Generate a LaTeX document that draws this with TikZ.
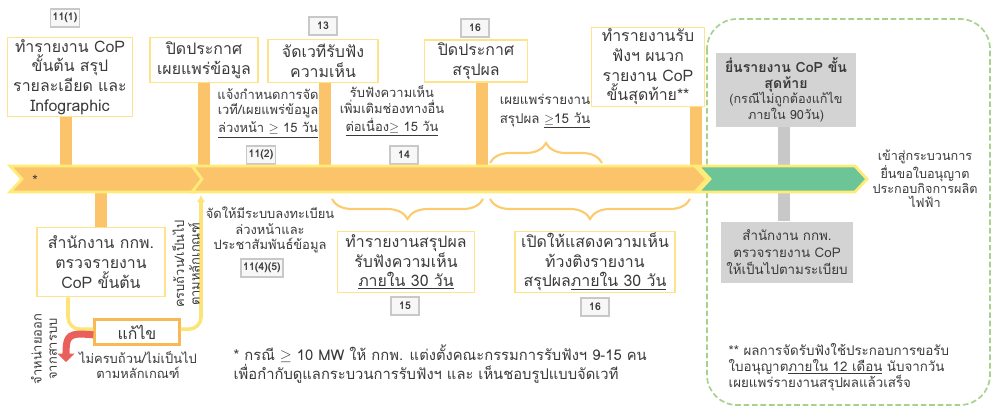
\documentclass[tikz,border=0pt]{standalone}
\usepackage{fontspec}
\setmainfont{Loma}[Script=Thai]
\usetikzlibrary{arrows.meta,decorations.pathreplacing}

\definecolor{boxyellow}{HTML}{FFE38A}
\definecolor{barorange}{HTML}{FBC36A}
\definecolor{bandyellow}{HTML}{FFEB7A}
\definecolor{bandgreen}{HTML}{6DC496}
\definecolor{boxgrey}{HTML}{D3D3D3}
\definecolor{lblgrey}{HTML}{C8C8C8}
\definecolor{dashgreen}{HTML}{A9D18E}
\definecolor{redarr}{HTML}{E9605A}
\definecolor{fixorange}{HTML}{F7B955}
\definecolor{txt}{HTML}{3A3A3A}

\begin{document}
\begin{tikzpicture}[x=0.025cm,y=-0.025cm,text=txt,
 box/.style={draw=boxyellow,line width=1.2pt,fill=white,align=center,inner sep=1pt,
  font=\fontsize{11.3}{14}\selectfont},
 gbox/.style={fill=boxgrey,align=center,inner sep=1pt,font=\fontsize{9}{11}\selectfont},
 num/.style={draw=lblgrey,line width=1.3pt,fill=gray!6,inner sep=1.5pt,
  font=\fontsize{7.5}{9}\selectfont\bfseries,minimum height=0.45cm,minimum width=0.72cm},
 note/.style={align=center,inner sep=1pt,font=\fontsize{9.2}{11}\selectfont},
 bar/.style={draw=barorange,line width=0.3cm},
 brc/.style={draw=barorange!80!bandyellow,line width=1.5pt,decorate,
  decoration={brace,amplitude=0.5cm}},
 okline/.style={draw=bandyellow!80!barorange,line width=2.5pt,rounded corners=0.3cm}]
\useasboundingbox (0,0) rectangle (994,410);

% licence stage frame
\draw[dashgreen,line width=1.2pt,dash pattern=on 4pt off 2pt,rounded corners=0.75cm]
 (707,19) rectangle (990,405);

\coordinate (bandmid) at (0,179);
\coordinate (okend) at (201,195);

% boxes above the band
\node[box,minimum width=3.125cm,minimum height=1.975cm] (rep) at (70,77)
 {ทำรายงาน CoP\\ขั้นต้น สรุป\\รายละเอียด และ\\Infographic};
\node[box,minimum width=2.7cm,minimum height=1.125cm] (pub) at (204,60)
 {ปิดประกาศ\\เผยแพร่ข้อมูล};
\node[box,minimum width=2.75cm,minimum height=1.075cm] (forum) at (323,61)
 {จัดเวทีรับฟัง\\ความเห็น};
\node[box,minimum width=2.575cm,minimum height=1.05cm] (sum) at (476,61)
 {ปิดประกาศ\\สรุปผล};
\node[box,minimum width=2.825cm,minimum height=1.975cm] (final) at (648,67)
 {ทำรายงานรับ\\ฟังฯ ผนวก\\รายงาน CoP\\ขั้นสุดท้าย**};
\node[gbox,minimum width=3.475cm,minimum height=1.825cm] (submit) at (786,90)
 {\textbf{\fontsize{10}{11}\selectfont ยื่นรายงาน CoP ขั้น}\\\textbf{\fontsize{10}{11}\selectfont สุดท้าย}\\(กรณีไม่ถูกต้องแก้ไข\\ภายใน 90วัน)};

% boxes below the band
\node[box,minimum width=3.2cm,minimum height=1.725cm] (review) at (101,262)
 {สำนักงาน กกพ.\\ตรวจรายงาน\\CoP ขั้นต้น};
\node[box,draw=fixorange,line width=1.6pt,minimum width=2.125cm,minimum height=0.625cm] (fix) at (137,332)
 {แก้ไข};
\node[box,minimum width=3.425cm,minimum height=1.525cm] (sumrep) at (406,262)
 {ทำรายงานสรุปผล\\รับฟังความเห็น\\\underline{ภายใน 30 วัน}};
\node[box,minimum width=4cm,minimum height=1.525cm] (object) at (595,262)
 {เปิดให้แสดงความเห็น\\ท้วงติงรายงาน\\สรุปผล\underline{ภายใน 30 วัน}};
\node[gbox,minimum width=3.275cm,minimum height=1.525cm,font=\fontsize{9.5}{12}\selectfont] (check) at (787,252)
 {สำนักงาน กกพ.\\ตรวจรายงาน CoP\\ให้เป็นไปตามระเบียบ};

% section numbers
\node[num] (n1) at (65,18) {11(1)};
\node[num] (n2) at (261,155) {11(2)};
\node[num] (n3) at (323,26) {13};
\node[num] (n4) at (404,155) {14};
\node[num] (n5) at (475,28) {16};
\node[num] (n6) at (262,268) {11(4)(5)};
\node[num] (n7) at (405,306) {15};
\node[num] (n8) at (595,307) {16};

% bars
\draw[bar] ([xshift=-0.1cm]rep.south) -- ([xshift=-0.1cm]rep.south |- bandmid);
\draw[bar] (pub.south) -- (pub.south |- bandmid);
\draw[bar] ([xshift=0.05cm]forum.south) -- ([xshift=0.05cm]forum.south |- bandmid);
\draw[bar] ([xshift=0.15cm]sum.south) -- ([xshift=0.15cm]sum.south |- bandmid);
\draw[bar] ([xshift=1.2cm]final.south) -- ([xshift=1.2cm]final.south |- bandmid);
\draw[bar] (review.north) -- (review.north |- bandmid);
\draw[draw=lblgrey,line width=0.28cm] ([xshift=-0.05cm]submit.south) -- ([xshift=-0.05cm]submit.south |- check.north);

% the band
\filldraw[draw=bandyellow,fill=barorange,line width=2pt]
 (10,166) -- (196,166) -- (206,179) -- (196,192) -- (10,192) -- (22,179) -- cycle;
\filldraw[draw=bandyellow,fill=barorange,line width=2pt]
 (192,166) -- (695,166) -- (707,179) -- (695,192) -- (192,192) -- (202,179) -- cycle;
\filldraw[draw=bandyellow,fill=bandgreen,line width=2pt]
 (698,166) -- (855,166) -- (867,179) -- (855,192) -- (698,192) -- (710,179) -- cycle;
\node (star) at (35,180) {*};

% braces
\draw[brc] (490,163) -- (602,163);
\draw[brc] (483,199) -- (332,199);
\draw[brc] (690,199) -- (490,199);

% correction loop
\draw[okline] ([xshift=-0.825cm]review.south) |- ([yshift=2pt]fix.west);
\draw[okline,-{Latex[length=5pt,width=6pt]}] ([yshift=2pt]fix.east) -| (okend);
\coordinate (drop) at (66,362);
\draw[redarr,line width=5pt,-{Triangle[length=6pt,width=12pt]}]
 ([yshift=-2pt]fix.west) -- (82,334) .. controls (68,334) and (66,338) .. (drop);

% notes
\node[note] (t1) at (268,113) {แจ้งกำหนดการจัด\\เวที/เผยแพร่ข้อมูล\\[2pt]\underline{ล่วงหน้า $\geq$ 15 วัน}};
\node[note] (t2) at (392,111) {รับฟังความเห็น\\เพิ่มเติมช่องทางอื่น\\[2pt]\underline{ต่อเนื่อง$\geq$ 15 วัน}};
\node[note,font=\fontsize{9.5}{11.5}\selectfont] (t3) at (545,111) {เผยแพร่รายงาน\\[2pt]สรุปผล \underline{$\geq$15 วัน}};
\node[note] (t4) at (270,230) {จัดให้มีระบบลงทะเบียน\\ล่วงหน้าและ\\ประชาสัมพันธ์ข้อมูล};
\node[note,rotate=90] (t5) at (186,264) {ครบถ้วน/เป็นไป\\ตามหลักเกณฑ์};
\node[note,rotate=90] (t6) at (44,349) {จำหน่ายออก\\จากสารบบ};
\node[note] (t7) at (138,365) {ไม่ครบถ้วน/ไม่เป็นไป\\ตามหลักเกณฑ์};
\node[note,font=\fontsize{9}{10.5}\selectfont] (t8) at (925,179) {เข้าสู่กระบวนการ\\ยื่นขอใบอนุญาต\\ประกอบกิจการผลิต\\ไฟฟ้า};
\node[note,align=left,anchor=west,font=\fontsize{10.5}{13}\selectfont] (foot1) at (232,364)
 {* กรณี $\geq$ 10 MW ให้ กกพ. แต่งตั้งคณะกรรมการรับฟังฯ 9-15 คน\\เพื่อกำกับดูแลกระบวนการรับฟังฯ และ เห็นชอบรูปแบบจัดเวที};
\node[note,align=left,anchor=west,font=\fontsize{9.5}{11.5}\selectfont] (foot2) at (727,367)
 {** ผลการจัดรับฟังใช้ประกอบการขอรับ\\ใบอนุญาต\underline{ภายใน 12 เดือน} นับจากวัน\\เผยแพร่รายงานสรุปผลแล้วเสร็จ};
\end{tikzpicture}
\end{document}
